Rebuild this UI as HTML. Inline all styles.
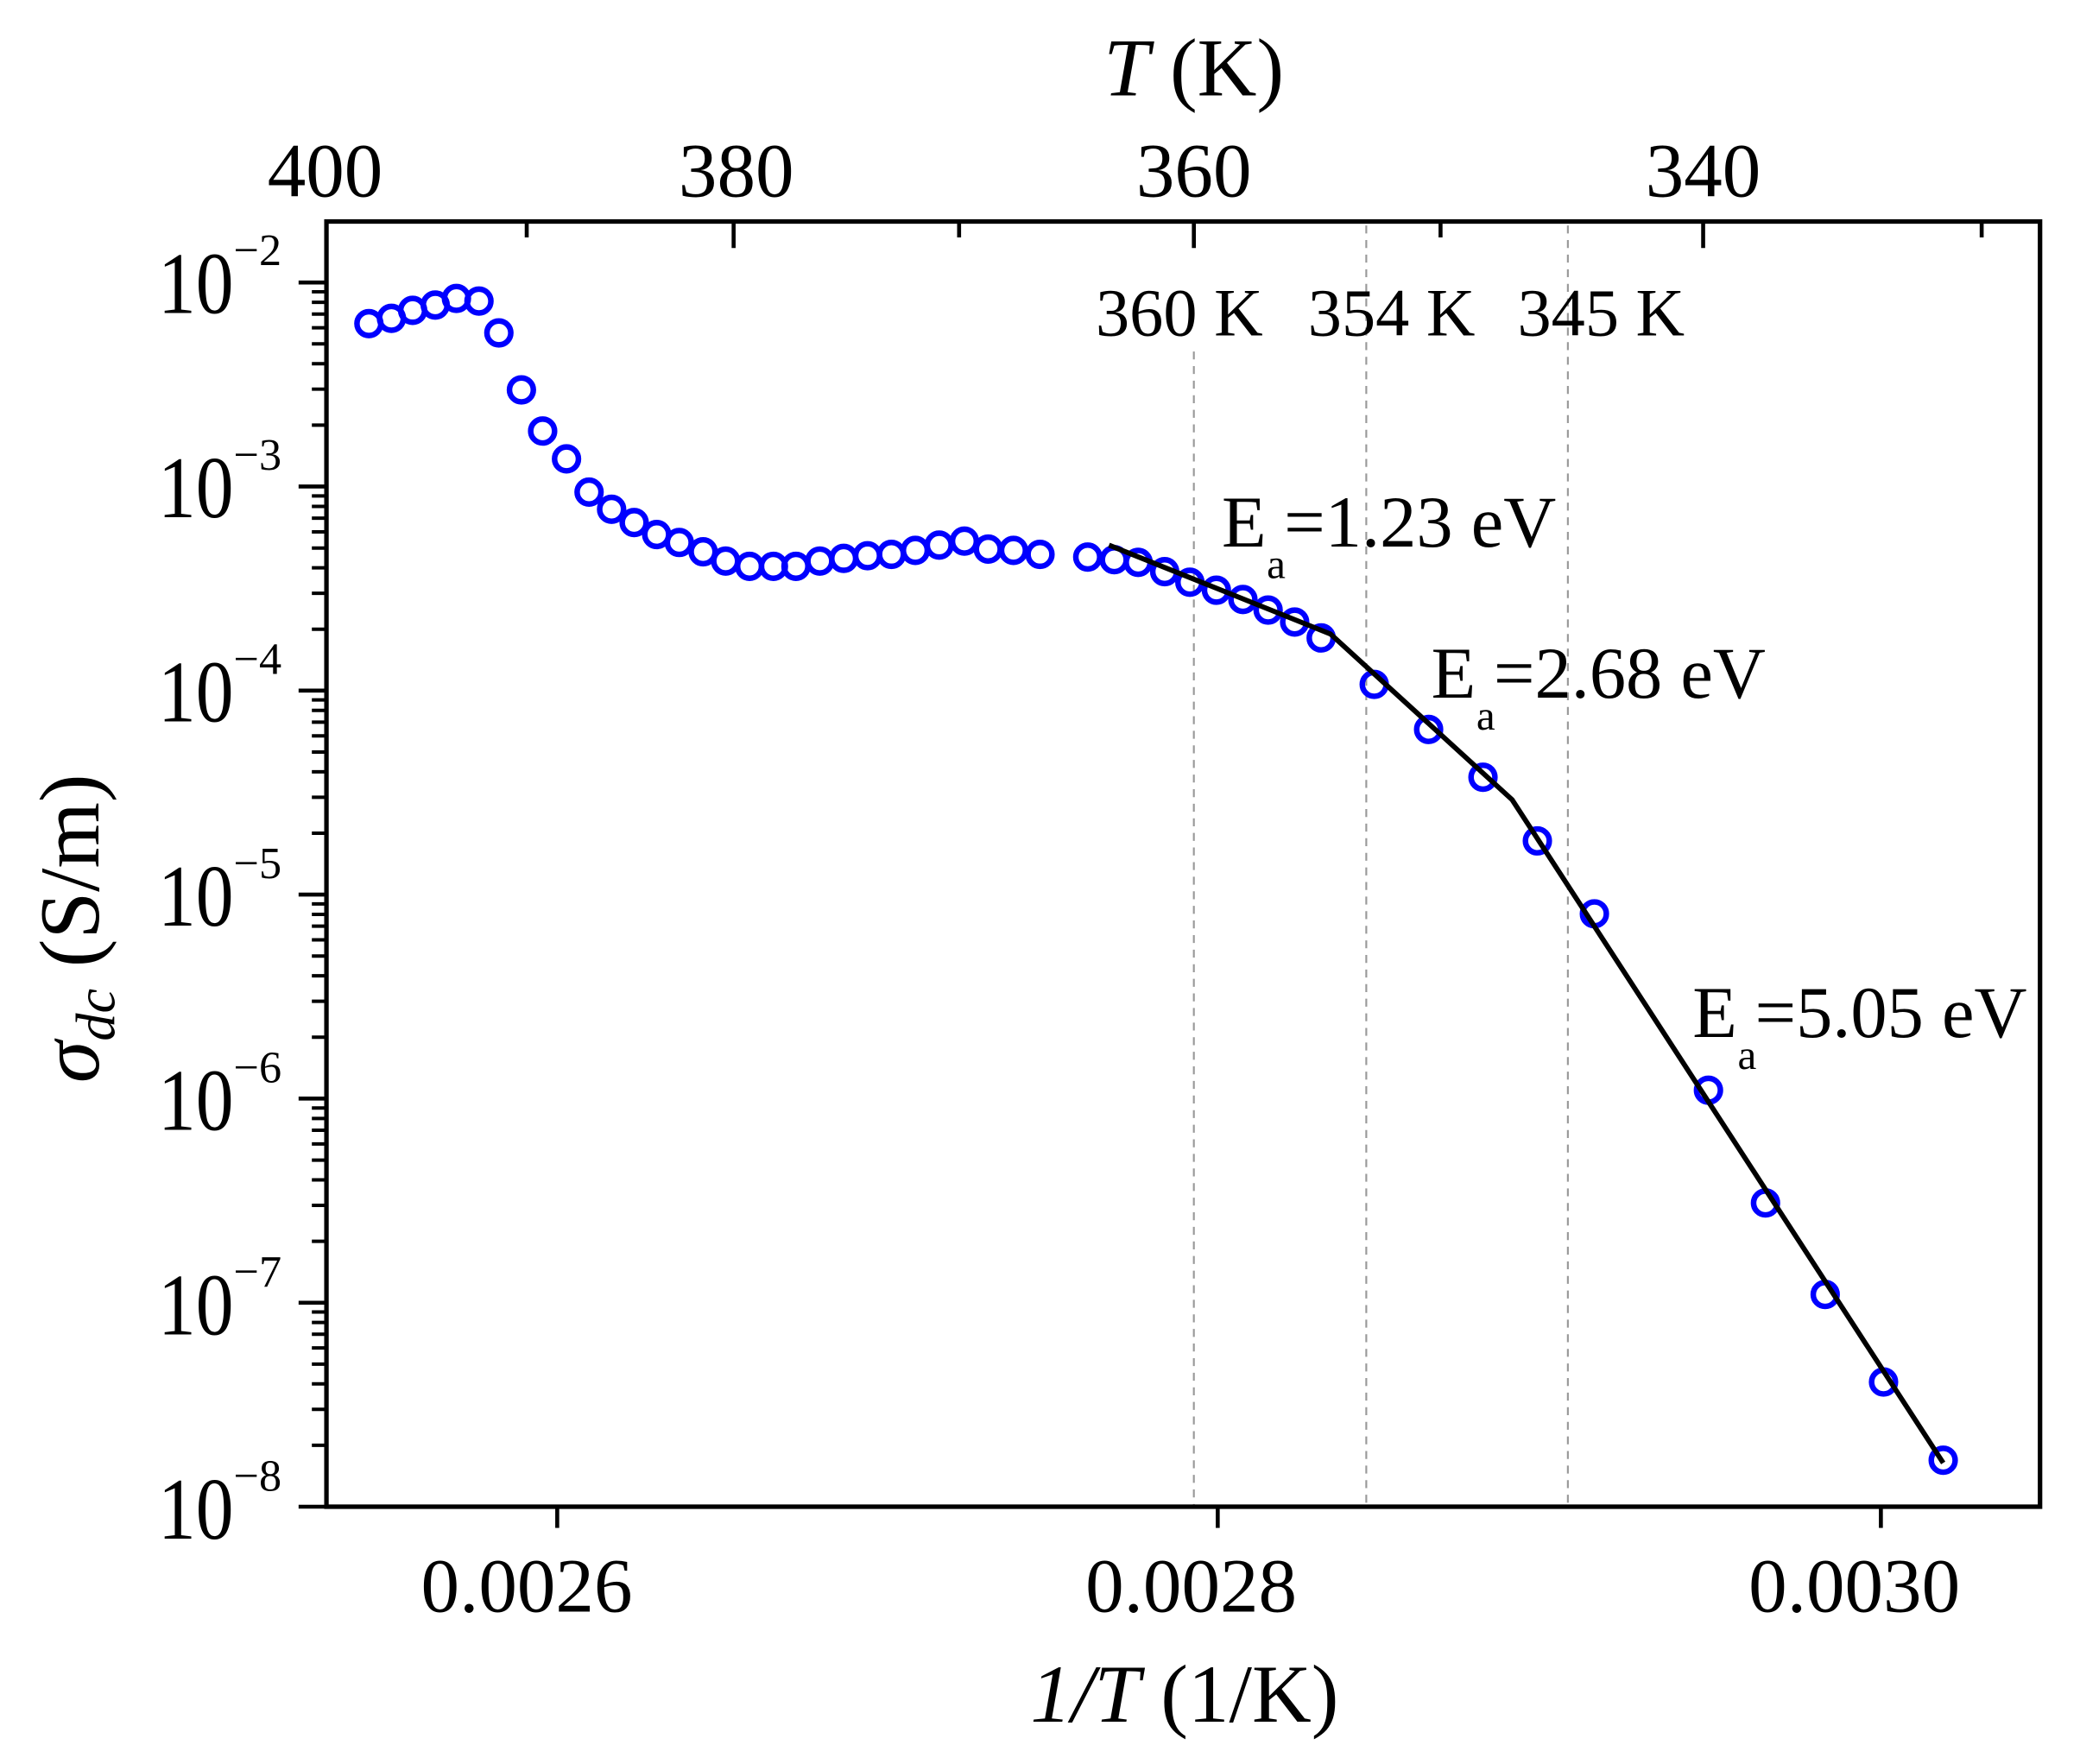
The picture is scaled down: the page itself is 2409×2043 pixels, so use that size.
<!DOCTYPE html>
<html><head><meta charset="utf-8"><style>html,body{margin:0;padding:0;background:#fff}svg{display:block}</style></head>
<body>
<svg width="2409" height="2043" viewBox="0 0 1568 1330" xmlns="http://www.w3.org/2000/svg" font-family="'Liberation Serif', serif">
<rect width="1568" height="1330" fill="#fff"/>
<g stroke="#999" stroke-width="1.4" stroke-dasharray="6,5">
<line x1="900" y1="265" x2="900" y2="1136"/>
<line x1="1030" y1="170" x2="1030" y2="1136"/>
<line x1="1182" y1="170" x2="1182" y2="1136"/>
</g>
<rect x="246" y="167" width="1292" height="969" fill="none" stroke="#000" stroke-width="3.4"/>
<g stroke="#000" stroke-width="3">
<line x1="553" y1="167" x2="553" y2="187"/>
<line x1="900" y1="167" x2="900" y2="187"/>
<line x1="1284" y1="167" x2="1284" y2="187"/>
<line x1="397" y1="167" x2="397" y2="179"/>
<line x1="723" y1="167" x2="723" y2="179"/>
<line x1="1086" y1="167" x2="1086" y2="179"/>
<line x1="1494" y1="167" x2="1494" y2="179"/>
<line x1="420" y1="1136" x2="420" y2="1152"/>
<line x1="918" y1="1136" x2="918" y2="1152"/>
<line x1="1418" y1="1136" x2="1418" y2="1152"/>
<path d="M225 213H246M225 366.8H246M225 520.7H246M225 674.5H246M225 828.3H246M225 982.2H246M225 1136H246"/>
<path d="M235 320.5H246M235 293.4H246M235 274.2H246M235 259.3H246M235 247.1H246M235 236.8H246M235 227.9H246M235 220H246
M235 474.4H246M235 447.3H246M235 428.1H246M235 413.2H246M235 401H246M235 390.7H246M235 381.8H246M235 373.9H246
M235 628.2H246M235 601.1H246M235 581.9H246M235 567H246M235 554.8H246M235 544.5H246M235 535.6H246M235 527.7H246
M235 782H246M235 754.9H246M235 735.7H246M235 720.8H246M235 708.6H246M235 698.3H246M235 689.4H246M235 681.5H246
M235 935.9H246M235 908.8H246M235 889.6H246M235 874.7H246M235 862.5H246M235 852.2H246M235 843.3H246M235 835.4H246
M235 1089.7H246M235 1062.6H246M235 1043.4H246M235 1028.5H246M235 1016.3H246M235 1006H246M235 997.1H246M235 989.2H246" stroke-width="2.6"/>
</g>
<g font-size="66" fill="#000">
<text x="119" y="236" textLength="57" lengthAdjust="spacingAndGlyphs">10</text><text x="176" y="200" font-size="34">−2</text>
<text x="119" y="390" textLength="57" lengthAdjust="spacingAndGlyphs">10</text><text x="176" y="354" font-size="34">−3</text>
<text x="119" y="544" textLength="57" lengthAdjust="spacingAndGlyphs">10</text><text x="176" y="508" font-size="34">−4</text>
<text x="119" y="698" textLength="57" lengthAdjust="spacingAndGlyphs">10</text><text x="176" y="662" font-size="34">−5</text>
<text x="119" y="852" textLength="57" lengthAdjust="spacingAndGlyphs">10</text><text x="176" y="816" font-size="34">−6</text>
<text x="119" y="1006" textLength="57" lengthAdjust="spacingAndGlyphs">10</text><text x="176" y="970" font-size="34">−7</text>
<text x="119" y="1160" textLength="57" lengthAdjust="spacingAndGlyphs">10</text><text x="176" y="1124" font-size="34">−8</text>
</g>
<g font-size="58" fill="#000" text-anchor="middle">
<text x="397" y="1215">0.0026</text>
<text x="898" y="1215">0.0028</text>
<text x="1398" y="1215">0.0030</text>
<text x="245" y="148">400</text>
<text x="555" y="148">380</text>
<text x="900" y="148">360</text>
<text x="1284" y="148">340</text>
</g>
<text x="900" y="72" font-size="62" text-anchor="middle"><tspan font-style="italic">T</tspan>  (K)</text>
<text x="893" y="1298" font-size="62" text-anchor="middle"><tspan font-style="italic">1/T</tspan>  (1/K)</text>
<text transform="translate(74,700) rotate(-90)" font-size="64" text-anchor="middle"><tspan font-style="italic">σ</tspan><tspan font-style="italic" font-size="42" dy="12">dc</tspan><tspan dy="-12">  (S/m)</tspan></text>
<g font-size="51" fill="#000">
<text x="826" y="253">360 K</text>
<text x="986" y="253">354 K</text>
<text x="1144" y="253">345 K</text>
</g>
<g font-size="55" fill="#000">
<text x="921" y="412">E</text><text x="955" y="436" font-size="32">a</text><text x="968" y="412">=1.23 eV</text>
<text x="1079" y="526">E</text><text x="1113" y="550" font-size="32">a</text><text x="1126" y="526">=2.68 eV</text>
<text x="1276" y="782">E</text><text x="1310" y="806" font-size="32">a</text><text x="1323" y="782">=5.05 eV</text>
</g>
<g fill="none" stroke="#0000ff" stroke-width="4.2">
<circle cx="278" cy="244" r="9"/><circle cx="295" cy="240" r="9"/><circle cx="311" cy="234" r="9"/><circle cx="328" cy="230" r="9"/><circle cx="344" cy="225" r="9"/><circle cx="361" cy="227" r="9"/><circle cx="376" cy="251" r="9"/><circle cx="393" cy="294" r="9"/><circle cx="409" cy="325" r="9"/><circle cx="427" cy="346" r="9"/><circle cx="444" cy="371" r="9"/><circle cx="461" cy="384" r="9"/><circle cx="478" cy="394" r="9"/><circle cx="495" cy="403" r="9"/><circle cx="512" cy="409" r="9"/><circle cx="530" cy="416" r="9"/><circle cx="547" cy="423" r="9"/><circle cx="565" cy="427" r="9"/><circle cx="583" cy="427" r="9"/><circle cx="600" cy="427" r="9"/><circle cx="618" cy="423" r="9"/><circle cx="636" cy="421" r="9"/><circle cx="654" cy="419" r="9"/><circle cx="672" cy="418" r="9"/><circle cx="690" cy="415" r="9"/><circle cx="708" cy="411" r="9"/><circle cx="727" cy="408" r="9"/><circle cx="745" cy="414" r="9"/><circle cx="764" cy="415" r="9"/><circle cx="784" cy="418" r="9"/><circle cx="820" cy="420" r="9"/><circle cx="840" cy="422" r="9"/><circle cx="858" cy="424" r="9"/><circle cx="878" cy="431" r="9"/><circle cx="897" cy="439" r="9"/><circle cx="917" cy="445" r="9"/><circle cx="937" cy="452" r="9"/><circle cx="956" cy="460" r="9"/><circle cx="976" cy="469" r="9"/><circle cx="996" cy="481" r="9"/><circle cx="1036" cy="516" r="9"/><circle cx="1077" cy="550" r="9"/><circle cx="1118" cy="586" r="9"/><circle cx="1159" cy="634" r="9"/><circle cx="1202" cy="689" r="9"/><circle cx="1288" cy="822" r="9"/><circle cx="1331" cy="907" r="9"/><circle cx="1376" cy="976" r="9"/><circle cx="1420" cy="1042" r="9"/><circle cx="1465" cy="1101" r="9"/>
</g>
<polyline points="836,411 1003,478 1140,603 1465,1103" fill="none" stroke="#000" stroke-width="3.8"/>
</svg>
</body></html>
